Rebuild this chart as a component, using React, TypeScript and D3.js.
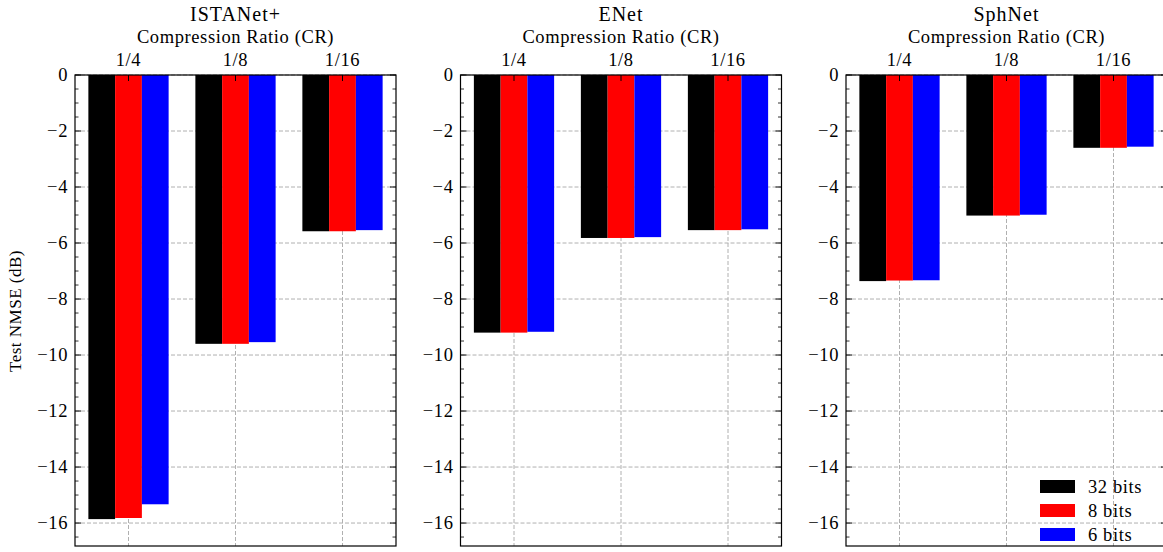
import React from "react";
import * as d3 from "d3";

const models = ["ISTANet+", "ENet", "SphNet"];
const ratios = ["1/4", "1/8", "1/16"];
const seriesNames = ["32 bits", "8 bits", "6 bits"];
const seriesColors = ["#000000", "#ff0000", "#0000ff"];
// values[model][ratio][series]
const istaValues = [
  [-15.86, -15.82, -15.33],
  [-9.6, -9.6, -9.54],
  [-5.58, -5.58, -5.54],
];
const enetValues = [
  [-9.2, -9.2, -9.17],
  [-5.82, -5.82, -5.79],
  [-5.54, -5.54, -5.51],
];
const sphValues = [
  [-7.36, -7.34, -7.33],
  [-5.02, -5.02, -4.99],
  [-2.6, -2.6, -2.56],
];
const allValues = [istaValues, enetValues, sphValues];
const yMajorTicks = [0, -2, -4, -6, -8, -10, -12, -14, -16];

const W = 1163;
const H = 552;
const panelLefts = [75, 460.5, 846];
const panelW = 321;
const top = 75;
const bottom = 546;
const font = "'Liberation Serif', 'DejaVu Serif', serif";

function Panel({ idx }: { idx: number }) {
  const left = panelLefts[idx];
  const x = d3.scaleLinear().domain([-0.5, 2.5]).range([left, left + panelW]);
  const y = d3.scaleLinear().domain([-16.82, 0]).range([bottom, top]);
  const minorTicks = d3.range(0, -16.82, -0.5).filter((v) => Math.abs(v % 2) > 1e-6);
  const bw = x(0.25) - x(0);
  const vals = allValues[idx];
  return (
    <g>
      {yMajorTicks.map((t) => (
        <line key={"gy" + t} x1={left} x2={left + panelW} y1={y(t)} y2={y(t)} stroke="#b0b0b0" strokeDasharray="4,2" strokeWidth={1} />
      ))}
      {ratios.map((r, i) => (
        <line key={"gx" + r} x1={x(i)} x2={x(i)} y1={top} y2={bottom} stroke="#b0b0b0" strokeDasharray="4,2" strokeWidth={1} />
      ))}
      {ratios.map((r, i) =>
        seriesNames.map((s, j) => {
          const v = vals[i][j];
          const cx = x(i + (j - 1) * 0.25);
          return <rect key={r + s} x={cx - bw / 2} y={y(0)} width={bw} height={y(v) - y(0)} fill={seriesColors[j]} />;
        })
      )}
      {yMajorTicks.map((t) => (
        <g key={"t" + t}>
          <line x1={left} x2={left + 6} y1={y(t)} y2={y(t)} stroke="#000" strokeWidth={1} />
          <line x1={left + panelW} x2={left + panelW - 6} y1={y(t)} y2={y(t)} stroke="#000" strokeWidth={1} />
          <text x={left - 7} y={y(t) + 6} textAnchor="end" fontFamily={font} fontSize={18.5} letterSpacing={0.6}>
            {t === 0 ? "0" : "\u2212" + Math.abs(t)}
          </text>
        </g>
      ))}
      {minorTicks.map((t) => (
        <g key={"m" + t}>
          <line x1={left} x2={left + 3.5} y1={y(t)} y2={y(t)} stroke="#000" strokeWidth={0.8} />
          <line x1={left + panelW} x2={left + panelW - 3.5} y1={y(t)} y2={y(t)} stroke="#000" strokeWidth={0.8} />
        </g>
      ))}
      {ratios.map((r, i) => (
        <g key={"xt" + r}>
          <line x1={x(i)} x2={x(i)} y1={top} y2={top + 6} stroke="#000" strokeWidth={1} />
          <text x={x(i)} y={66} textAnchor="middle" fontFamily={font} fontSize={18.5} letterSpacing={0.6}>{r}</text>
        </g>
      ))}
      <rect x={left} y={top} width={panelW} height={bottom - top} fill="none" stroke="#000" strokeWidth={1.2} />
      <text x={left + panelW / 2} y={43} textAnchor="middle" fontFamily={font} fontSize={18.5} letterSpacing={0.6}>Compression Ratio (CR)</text>
      <text x={left + panelW / 2} y={21} textAnchor="middle" fontFamily={font} fontSize={20} letterSpacing={1}>{models[idx]}</text>
    </g>
  );
}

export default function App() {
  const legendX = 1040;
  const legendY = [480, 504, 528];
  return (
    <svg width={W} height={H} style={{ position: "absolute", left: 0, top: 0, background: "#fff" }}>
      <rect x={0} y={0} width={W} height={H} fill="#fff" />
      {models.map((m, i) => (
        <Panel key={m} idx={i} />
      ))}
      <text transform={`translate(21,${311}) rotate(-90)`} textAnchor="middle" fontFamily={font} fontSize={17} letterSpacing={0.5}>
        Test NMSE (dB)
      </text>
      {seriesNames.map((s, j) => (
        <g key={s}>
          <rect x={legendX} y={legendY[j]} width={35} height={13} fill={seriesColors[j]} />
          <text x={1088} y={legendY[j] + 13} fontFamily={font} fontSize={18.5} letterSpacing={0.6}>{s}</text>
        </g>
      ))}
    </svg>
  );
}
